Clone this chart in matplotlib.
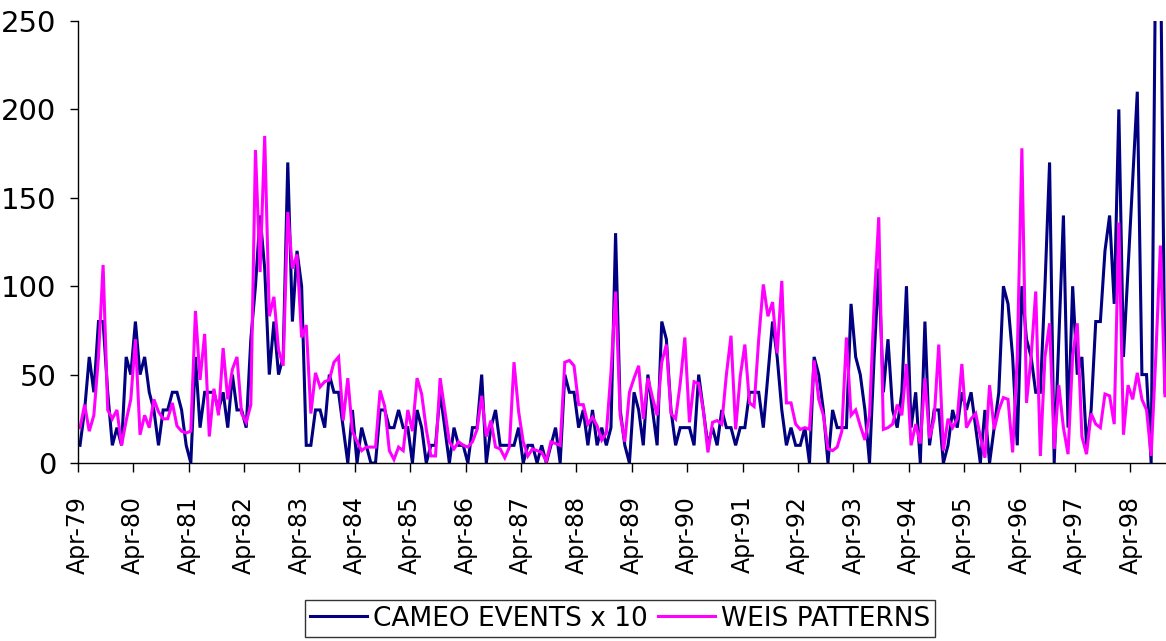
import matplotlib
matplotlib.use("Agg")
import matplotlib.pyplot as plt
import numpy as np

# Monthly series, Apr-1979 .. Nov-1998
cameo = [10,30,60,40,80,80,40,10,20,10,60,50,80,50,60,40,30,10,30,30,40,
         40,30,10,0,60,20,40,40,40,30,40,20,50,30,30,20,70,100,140,110,50,80,
         50,60,170,80,120,100,10,10,30,30,20,50,40,40,20,0,30,0,20,10,0,
         0,30,30,20,20,30,20,20,0,30,20,0,10,10,40,20,0,20,10,10,0,20,
         20,50,0,20,30,10,10,10,10,20,0,10,10,0,10,0,10,20,0,50,40,40,
         20,30,10,30,10,20,10,20,130,30,10,0,40,30,10,50,30,10,80,70,30,10,
         20,20,20,10,50,30,10,20,10,30,20,20,10,20,20,40,40,40,20,50,80,
         60,30,10,20,10,10,20,0,60,50,30,0,30,20,20,20,90,60,50,30,0,60,
         110,40,70,30,20,40,100,20,40,0,80,10,30,30,0,10,30,20,40,30,40,
         20,0,30,0,20,40,100,90,60,10,100,70,60,40,40,100,170,0,70,140,20,100,
         50,60,10,30,80,80,120,140,90,200,60,110,160,210,50,50,0,300,300,40]

weis = [20,33,18,27,60,112,30,25,30,10,24,36,70,16,27,20,36,29,25,25,34,
        21,18,17,18,86,47,73,15,42,27,65,36,53,60,28,23,33,177,108,185,83,94,
        64,55,142,110,118,71,78,28,51,43,46,47,57,60,24,48,18,12,7,9,9,
        9,41,32,7,2,9,7,30,18,48,39,19,4,4,48,30,12,8,12,10,9,12,
        19,38,15,24,9,8,3,9,57,29,12,4,8,7,6,1,12,11,10,57,58,55,
        33,33,22,26,21,13,17,51,97,27,12,40,48,55,25,48,37,27,57,67,28,25,
        45,71,23,46,45,30,6,23,24,22,50,72,19,49,67,34,32,70,101,83,91,
        62,103,34,34,22,19,20,19,58,36,27,8,7,9,18,71,27,30,21,13,27,90,
        139,19,20,22,33,27,56,10,22,11,48,14,25,67,7,25,20,25,56,20,25,
        28,15,3,44,19,30,37,36,6,60,178,34,60,97,4,60,79,8,44,20,5,61,
        79,15,5,28,22,20,39,38,22,136,16,44,36,51,36,30,4,60,123,38]

tick_labels = ["Apr-%02d" % (y % 100) for y in range(1979, 1999)]
y_ticks = [0, 50, 100, 150, 200, 250]

W, H = 1166, 641
fig = plt.figure(figsize=(W / 100, H / 100), dpi=100)
ax = fig.add_axes([77.7 / W, (H - 463) / H, (W - 77.7) / W, (463 - 21) / H])

x = np.arange(len(cameo)) + 0.5
ax.plot(x, cameo, color="#000080", lw=2.2, solid_joinstyle="miter",
        label="CAMEO EVENTS x 10")
ax.plot(np.arange(len(weis)) + 0.5, weis, color="#FF00FF", lw=2.2,
        solid_joinstyle="miter", label="WEIS PATTERNS")

ax.set_ylim(0, 250)
ax.set_xlim(0, (W - 77.7) / 4.617)
ax.set_yticks(y_ticks)
ax.set_yticklabels([str(v) for v in y_ticks])
ax.set_xticks([12 * k for k in range(len(tick_labels))])
ax.set_xticklabels(tick_labels, rotation=90)

for s in ("top", "right"):
    ax.spines[s].set_visible(False)
for s in ("left", "bottom"):
    ax.spines[s].set_color("black")
    ax.spines[s].set_linewidth(1.0)

ax.tick_params(axis="y", direction="out", length=5.5, width=1, pad=10,
               labelsize=21, colors="black")
ax.tick_params(axis="x", direction="out", length=6.5, width=1, pad=17,
               labelsize=17, colors="black")
for lab in ax.get_xticklabels() + ax.get_yticklabels():
    lab.set_family("DejaVu Sans")

leg = fig.legend(loc="center", bbox_to_anchor=(620 / W, 1 - 618.5 / H), ncol=2,
                 frameon=True, fancybox=False, edgecolor="black",
                 prop={"family": "DejaVu Sans", "size": 19},
                 handlelength=2.15, handletextpad=0.22, columnspacing=0.4,
                 borderpad=0.2, borderaxespad=0)
leg.get_frame().set_linewidth(1.0)

fig.savefig("out.png", dpi=100, facecolor="white")
